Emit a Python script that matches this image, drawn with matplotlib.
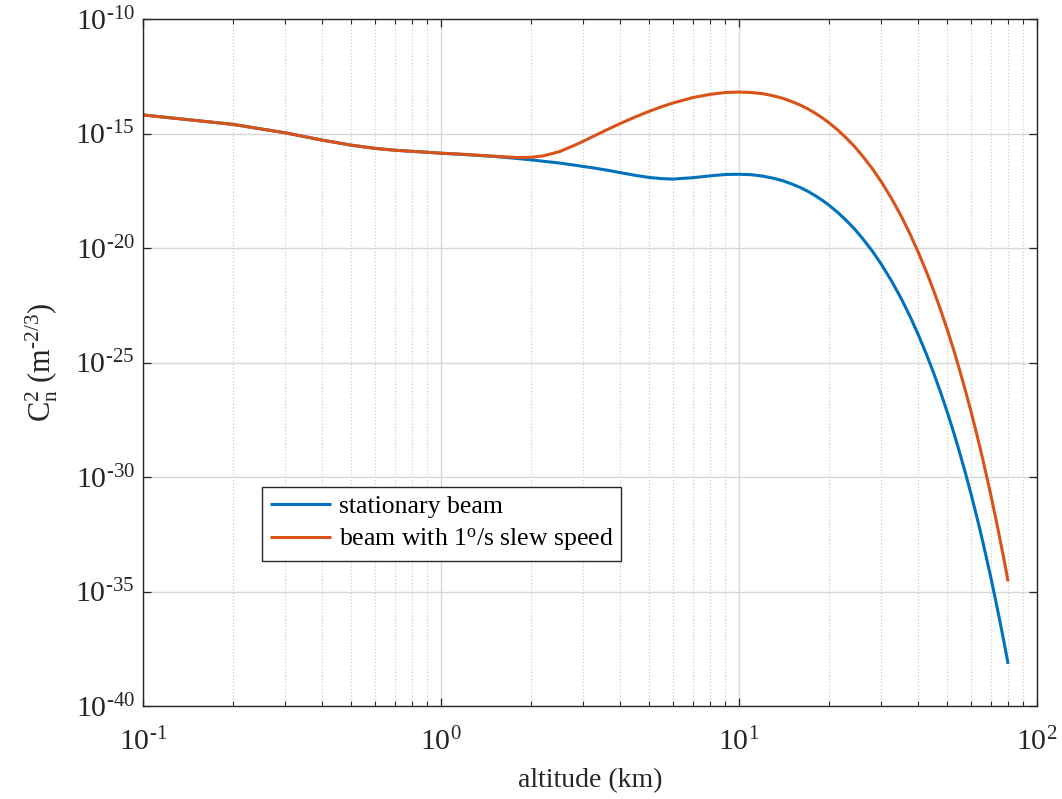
import numpy as np
import matplotlib
matplotlib.use("Agg")
import matplotlib.pyplot as plt
from matplotlib.ticker import LogLocator, NullLocator, FixedLocator, FuncFormatter

plt.rcParams["font.family"] = ["Liberation Serif", "DejaVu Serif"]
plt.rcParams["mathtext.fontset"] = "custom"
plt.rcParams["mathtext.rm"] = "Liberation Serif"
plt.rcParams["mathtext.it"] = "Liberation Serif:italic"
plt.rcParams["mathtext.bf"] = "Liberation Serif:bold"

# Altitude samples (km)
altitude_km = [0.1, 0.2, 0.3, 0.4, 0.5, 0.6, 0.7, 0.8, 0.9, 1.0,
               1.2, 1.5, 1.8, 2.0, 2.2, 2.5, 2.8, 3.0, 3.2, 3.6,
               4.0, 4.5, 5.0, 5.5, 6.0, 7.0, 8.0, 9.0, 10.0, 11.0,
               12.0, 13.0, 14.0, 15.0, 16.0, 17.0, 18.0, 19.0, 20.0, 21.5,
               23.0, 24.5, 26.0, 28.0, 30.0, 32.5, 35.0, 37.5, 40.0, 42.5,
               45.0, 47.5, 50.0, 52.5, 55.0, 57.5, 60.0, 62.5, 65.0, 67.5,
               70.0, 72.5, 75.0, 77.5, 80.0]

# log10 of Cn^2 (m^-2/3) for each beam
log_cn2_stationary = [-14.19, -14.60, -14.97, -15.29, -15.51, -15.65, -15.73, -15.78, -15.82, -15.86,
                      -15.92, -16.00, -16.09, -16.15, -16.21, -16.29, -16.38, -16.44, -16.49, -16.60,
                      -16.71, -16.83, -16.92, -16.97, -16.99, -16.93, -16.85, -16.79, -16.78, -16.80,
                      -16.86, -16.95, -17.06, -17.20, -17.35, -17.52, -17.71, -17.91, -18.12, -18.46,
                      -18.82, -19.19, -19.59, -20.13, -20.70, -21.44, -22.20, -22.99, -23.80, -24.62,
                      -25.46, -26.31, -27.17, -28.04, -28.93, -29.82, -30.72, -31.63, -32.54, -33.47,
                      -34.39, -35.33, -36.27, -37.21, -38.16]

log_cn2_slew = [-14.19, -14.60, -14.97, -15.29, -15.51, -15.65, -15.73, -15.78, -15.82, -15.86,
                -15.91, -15.99, -16.05, -16.04, -15.98, -15.79, -15.52, -15.34, -15.16, -14.84,
                -14.56, -14.27, -14.03, -13.83, -13.67, -13.43, -13.29, -13.21, -13.19, -13.21,
                -13.26, -13.35, -13.46, -13.60, -13.75, -13.92, -14.11, -14.31, -14.52, -14.86,
                -15.22, -15.59, -15.99, -16.53, -17.10, -17.84, -18.60, -19.39, -20.20, -21.02,
                -21.86, -22.71, -23.57, -24.44, -25.33, -26.22, -27.12, -28.03, -28.94, -29.87,
                -30.79, -31.73, -32.67, -33.61, -34.56]

series_labels = ["stationary beam", r"beam with 1$^{\mathrm{o}}$/s slew speed"]
series_colors = ["#0072BD", "#D95319"]

y_ticks = [1e-40, 1e-35, 1e-30, 1e-25, 1e-20, 1e-15, 1e-10]
x_ticks = [1e-1, 1e0, 1e1, 1e2]


def power_label(val, pos):
    e = int(round(np.log10(val)))
    if e < 0:
        return r"$\mathrm{10}^{\text{-}%d}$" % (-e)
    return r"$\mathrm{10}^{%d}$" % e


fig = plt.figure(figsize=(10.62, 7.99), dpi=100)
ax = fig.add_axes([143 / 1062, 1 - 706 / 799, (1037 - 143) / 1062, (706 - 19) / 799])

h = np.array(altitude_km)
for logv, lab, col in zip([log_cn2_stationary, log_cn2_slew], series_labels, series_colors):
    ax.plot(h, 10.0 ** np.array(logv), color=col, lw=2.2, label=lab,
            solid_joinstyle="round", solid_capstyle="butt")

ax.set_xscale("log")
ax.set_yscale("log")
ax.set_xlim(1e-1, 1e2)
ax.set_ylim(1e-40, 1e-10)

ax.xaxis.set_major_locator(FixedLocator(x_ticks))
ax.xaxis.set_minor_locator(LogLocator(base=10, subs=np.arange(2, 10), numticks=50))
ax.xaxis.set_major_formatter(FuncFormatter(power_label))
ax.yaxis.set_major_locator(FixedLocator(y_ticks))
ax.yaxis.set_minor_locator(NullLocator())
ax.yaxis.set_major_formatter(FuncFormatter(power_label))

edge = "#262626"
for sp in ax.spines.values():
    sp.set_color(edge)
    sp.set_linewidth(1.0)

ax.tick_params(which="both", direction="in", top=True, right=True, colors=edge,
               labelcolor="#262626", labelsize=21.5)
ax.tick_params(which="major", length=6, width=0.9)
ax.tick_params(which="minor", length=3.5, width=0.8)
ax.tick_params(axis="x", which="major", pad=16)
ax.tick_params(axis="y", which="major", pad=6)

ax.grid(which="major", color="#d7d7d7", linestyle="-", linewidth=1.0)
ax.xaxis.grid(which="minor", color="#cfcfcf", linestyle=":", linewidth=0.9)
ax.set_axisbelow(True)

ax.set_xlabel("altitude (km)", fontsize=20, color="#262626", labelpad=8)
ax.set_ylabel(r"C$_{\mathrm{n}}^{2}$ (m$^{\text{-}2/3}$)", fontsize=22, color="#262626")
ax.yaxis.set_label_coords(-0.093, 0.5)

leg = ax.legend(loc="lower left", bbox_to_anchor=(0.133, 0.211), fontsize=18.5,
                frameon=True, fancybox=False, edgecolor=edge, framealpha=1.0,
                handlelength=2.4, handletextpad=0.3, borderpad=0.3, labelspacing=0.35,
                borderaxespad=0.0)
leg.get_frame().set_linewidth(1.0)

fig.savefig("out.png", dpi=100)
